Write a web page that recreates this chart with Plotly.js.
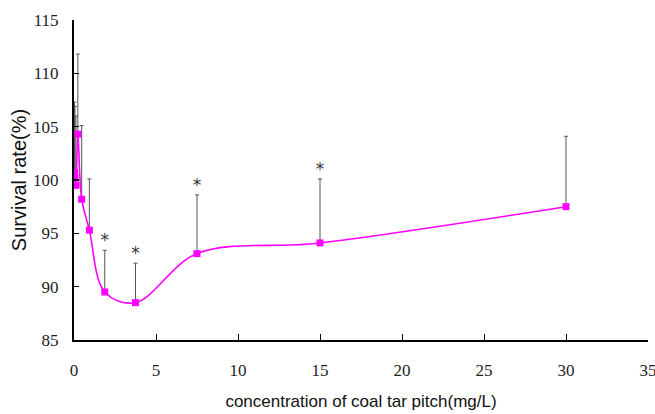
<!DOCTYPE html>
<html>
<head>
<meta charset="utf-8">
<script src="https://cdn.plot.ly/plotly-3.0.1.min.js"></script>
<style>
  html, body { margin: 0; padding: 0; background: #fff; }
  #chart { width: 655px; height: 414px; }
</style>
</head>
<body>
<div id="chart"></div>
<script>
// Concentration of coal tar pitch (mg/L)
const concentrations = [0.0293, 0.0586, 0.117, 0.234, 0.469, 0.9375, 1.875, 3.75, 7.5, 15, 30];
// Survival rate (%)
const survival = [100.7, 100.2, 99.5, 104.3, 98.2, 95.3, 89.5, 88.5, 93.1, 94.1, 97.5];
// Upper end of each error bar (%)
const errorTop = [107.3, 106.9, 106.0, 111.8, 105.1, 100.1, 93.4, 92.2, 98.6, 100.1, 104.1];
// Significance markers
const starX = [1.875, 3.75, 7.5, 15];
const starLabel = ['*', '*', '*', '*'];
const xTicks = [0, 5, 10, 15, 20, 25, 30, 35];
const yTicks = [85, 90, 95, 100, 105, 110, 115];

const errPlus = survival.map((v, i) => +(errorTop[i] - v).toFixed(2));
const errMinus = survival.map(() => 0);
const starY = starX.map(x => errorTop[concentrations.indexOf(x)]);

const traces = [
  {
    x: concentrations,
    y: survival,
    type: 'scatter',
    mode: 'lines+markers',
    line: { color: '#FF00FF', width: 1.6, shape: 'spline', smoothing: 1 },
    marker: { symbol: 'square', size: 7, color: '#FF00FF' },
    error_y: {
      type: 'data', symmetric: false,
      array: errPlus, arrayminus: errMinus,
      color: '#555555', thickness: 1, width: 2
    },
    hoverinfo: 'x+y'
  },
  {
    x: starX,
    y: starY,
    type: 'scatter',
    mode: 'text',
    text: starLabel,
    textposition: 'top center',
    textfont: { family: 'DejaVu Sans, sans-serif', size: 17, color: '#333333' },
    hoverinfo: 'skip'
  }
];

const layout = {
  width: 655, height: 414,
  margin: { l: 74, r: 7, t: 20, b: 74 },
  paper_bgcolor: '#ffffff',
  plot_bgcolor: '#ffffff',
  showlegend: false,
  font: { family: 'Liberation Serif, serif', color: '#222222' },
  xaxis: {
    range: [0, 35],
    tickvals: xTicks,
    ticktext: xTicks.map(String),
    ticks: 'inside', ticklen: 6, tickwidth: 1, tickcolor: '#000',
    showline: true, linecolor: '#000', linewidth: 1.5,
    showgrid: false, zeroline: false,
    ticklabelstandoff: 14,
    ticklabeloverflow: 'allow',
    tickfont: { family: 'Liberation Serif, serif', size: 17, color: '#222' },
    title: {
      text: 'concentration of coal tar pitch(mg/L)',
      font: { family: 'Liberation Sans, Arial, sans-serif', size: 17, color: '#111' },
      standoff: 16
    },
    automargin: false
  },
  yaxis: {
    range: [85, 115],
    tickvals: yTicks,
    ticktext: yTicks.map(String),
    ticks: 'inside', ticklen: 5, tickwidth: 1.5, tickcolor: '#000',
    showline: true, linecolor: '#000', linewidth: 2,
    showgrid: false, zeroline: false,
    ticklabelstandoff: 10,
    tickfont: { family: 'Liberation Serif, serif', size: 17, color: '#222' },
    title: {
      text: 'Survival rate(%)',
      font: { family: 'Liberation Sans, Arial, sans-serif', size: 20, color: '#111' },
      standoff: 1
    },
    automargin: false
  }
};

Plotly.newPlot('chart', traces, layout, { displayModeBar: false, staticPlot: true });
</script>
</body>
</html>
